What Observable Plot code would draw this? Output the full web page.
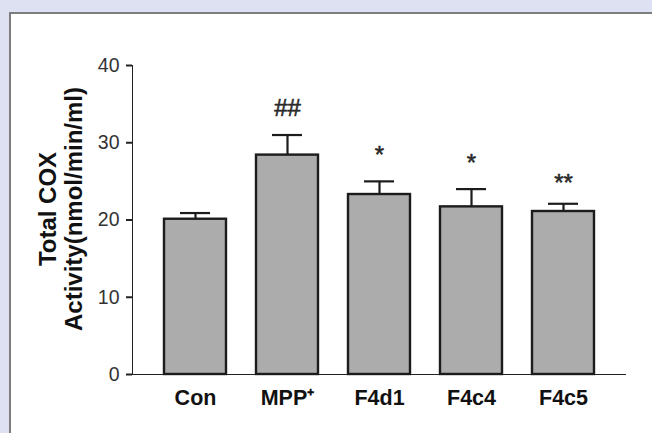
<!DOCTYPE html>
<html>
<head>
<meta charset="utf-8">
<script src="https://cdn.jsdelivr.net/npm/d3@7"></script>
<script src="https://cdn.jsdelivr.net/npm/@observablehq/plot@0.6"></script>
<style>
  html, body { margin: 0; padding: 0; }
  body { width: 652px; height: 433px; background: #dde1f1; position: relative; overflow: hidden; font-family: "Liberation Sans", Arial, sans-serif; }
  #panel { position: absolute; left: 9px; top: 12px; right: 0; bottom: 0; background: #ffffff; border-top: 2px solid #7d7d7d; border-left: 2px solid #7d7d7d; }
  #chart { position: absolute; left: 0; top: 0; }
  #chart g[aria-label="y-axis tick label"], #chart g[aria-label="y-axis tick label"] text { font-size: 19.5px !important; fill: #333; }
  #chart g[aria-label="x-axis tick label"], #chart g[aria-label="x-axis tick label"] text { font-size: 21.5px !important; font-weight: bold; fill: #111; }
  #chart g[aria-label="y-axis tick"], #chart g[aria-label$="axis line"] { stroke-width: 2px; stroke: #222; }
</style>
</head>
<body>
<div id="panel"></div>
<div id="chart"></div>
<script>
const categories = ["Con", "MPP⁺", "F4d1", "F4c4", "F4c5"];
const means = [20.1, 28.4, 23.3, 21.7, 21.1];
const errors = [0.8, 2.6, 1.7, 2.3, 1.0];
const sigLabels = ["", "##", "*", "*", "**"];
const sigY = [null, 34.5, 28.4, 27.4, 24.8];
const yTicks = [0, 10, 20, 30, 40];
const yLabel = "Total COX\nActivity(nmol/min/ml)";

const data = categories.map((c, i) => ({cat: c, mean: means[i], err: errors[i], top: means[i] + errors[i], sig: sigLabels[i], sigY: sigY[i]}));
const dark = "#1c1c1c";

const chart = Plot.plot({
  width: 652,
  height: 433,
  marginLeft: 132,
  marginRight: 27,
  marginTop: 65,
  marginBottom: 59,
  style: {fontFamily: "'Liberation Sans', Arial, sans-serif", background: "transparent", color: "#222", overflow: "visible"},
  x: {domain: categories, paddingInner: 0.33, paddingOuter: 0.34, label: null, tickSize: 0, tickPadding: 15, line: true},
  y: {domain: [0, 40], ticks: yTicks, label: null, tickSize: 6, tickPadding: 7, line: true},
  marks: [
    Plot.barY(data, {x: "cat", y: "mean", fill: "#acacac", stroke: dark, strokeWidth: 2.4}),
    Plot.ruleX(data, {x: "cat", y1: "mean", y2: "top", stroke: dark, strokeWidth: 2.2}),
    Plot.tickY(data, {x: "cat", y: "top", insetLeft: 16, insetRight: 16, stroke: dark, strokeWidth: 2.2}),
    Plot.text(data.filter(d => d.sig), {x: "cat", y: "sigY", text: "sig", fontSize: 24, fill: "#2a2a2a", stroke: "#2a2a2a", strokeWidth: 0.6}),
    Plot.text([yLabel], {frameAnchor: "left", textAnchor: "middle", lineAnchor: "middle", rotate: -90, dx: -72, dy: -11, fontSize: 24, fontWeight: "bold", lineHeight: 1.1, fill: "#111", text: d => d})
  ]
});
document.getElementById("chart").appendChild(chart);
</script>
</body>
</html>
